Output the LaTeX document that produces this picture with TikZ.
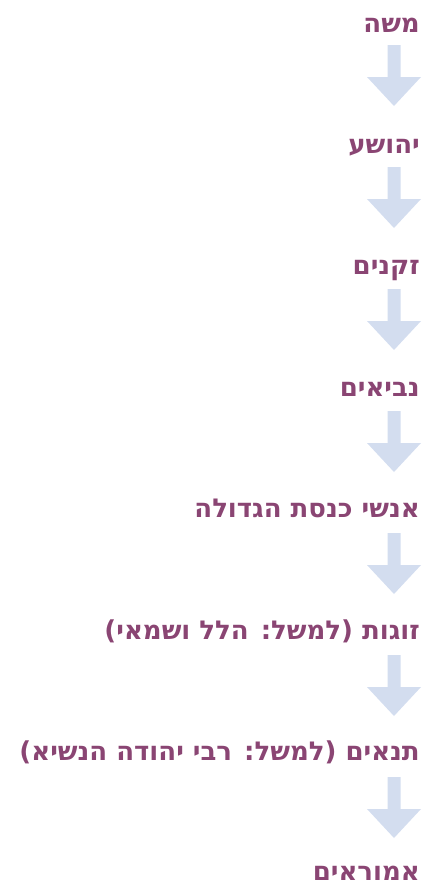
\documentclass[tikz,border=0pt]{standalone}
\usepackage{fontspec}
\TeXXeTstate=1
\newfontfamily\hebfont[Script=Hebrew]{DejaVu Sans}
\definecolor{chaincol}{HTML}{8A4573}
\definecolor{arrowcol}{HTML}{D3DDEF}
\tikzset{
  link/.style={font=\hebfont\bfseries\fontsize{26}{30}\selectfont, text=chaincol,
    anchor=base east, inner sep=0pt},
}
% block arrow pointing down, tip at the given node's top
\newcommand{\downblock}[1]{%
  \fill[arrowcol] ([xshift=-6.5pt,yshift=61pt]#1) -- ([xshift=6.5pt,yshift=61pt]#1)
    -- ([xshift=6.5pt,yshift=29pt]#1) -- ([xshift=27pt,yshift=29pt]#1)
    -- (#1) -- ([xshift=-27pt,yshift=29pt]#1) -- ([xshift=-6.5pt,yshift=29pt]#1) -- cycle;}
\begin{document}
\begin{tikzpicture}[x=1pt,y=-1pt]
\useasboundingbox (0,0) rectangle (437,886);
\node[link] (n1) at (420,32) {\beginR משה\endR};
\node[link] (n2) at (420,153.4) {\beginR יהושע\endR};
\node[link] (n3) at (420,274.8) {\beginR זקנים\endR};
\node[link] (n4) at (420,396.2) {\beginR נביאים\endR};
\node[link] (n5) at (420,517.6) {\beginR אנשי כנסת הגדולה\endR};
\node[link] (n6) at (420,639) {\beginR זוגות (למשל: הלל ושמאי)\endR};
\node[link] (n7) at (420,760.4) {\beginR תנאים\ (למשל: רבי יהודה הנשיא)\endR};
\node[link] (n8) at (420,880) {\beginR אמוראים\endR};
\foreach \i in {0,...,6}{
  \coordinate (t\i) at (394,{106+122*\i});
  \downblock{t\i}
}
\end{tikzpicture}
\end{document}
